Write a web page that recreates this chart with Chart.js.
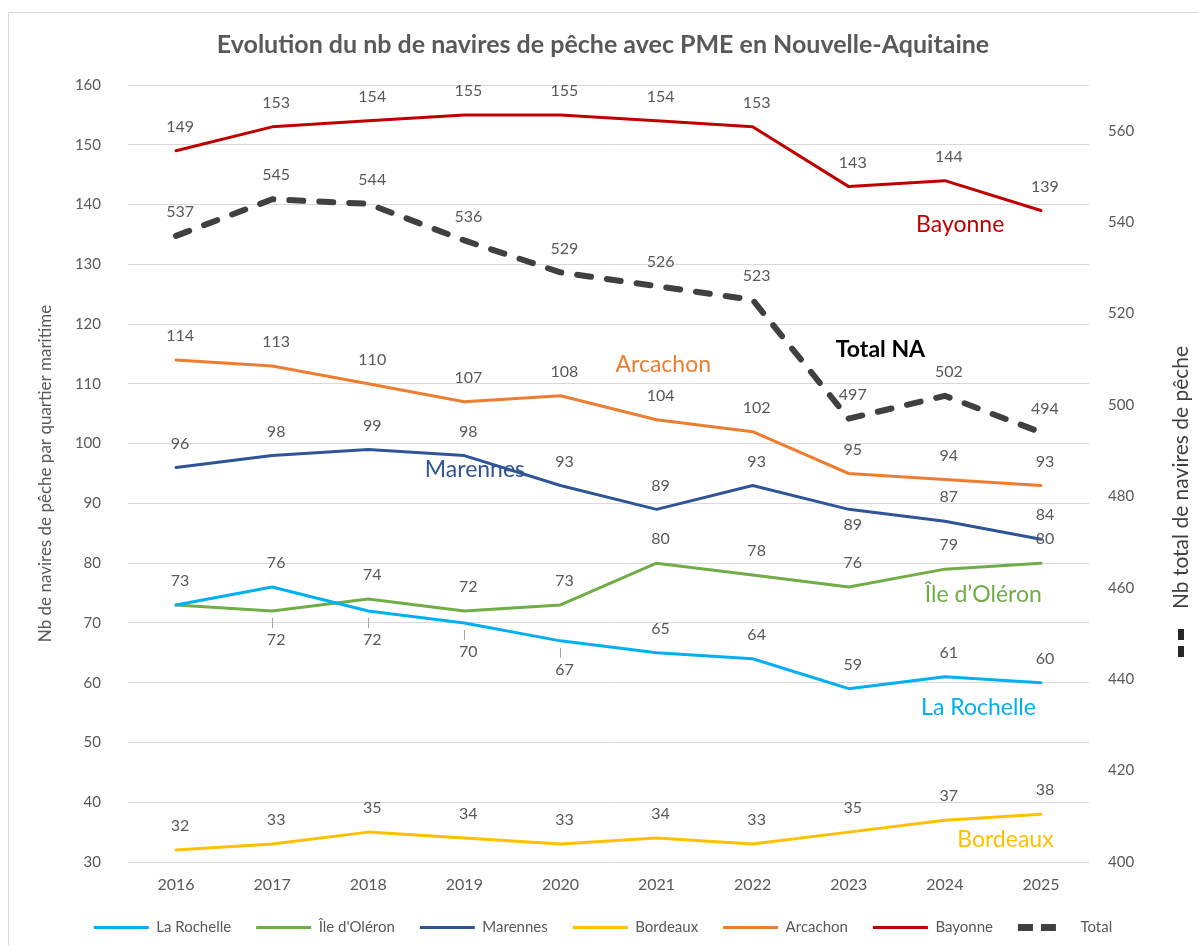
<!DOCTYPE html>
<html><head><meta charset="utf-8">
<script src="https://cdn.jsdelivr.net/npm/chart.js@4/dist/chart.umd.min.js"></script>
<style>html,body{margin:0;padding:0;background:#fff}#wrap{width:1198px;height:945px;position:relative}canvas{display:block}</style>
</head><body><div id="wrap"><canvas id="c" width="1198" height="945"></canvas></div>
<script>
// ---- data ----
const years = ['2016','2017','2018','2019','2020','2021','2022','2023','2024','2025'];
const laRochelle = [73,76,72,70,67,65,64,59,61,60];
const ileOleron  = [73,72,74,72,73,80,78,76,79,80];
const marennes   = [96,98,99,98,93,89,93,89,87,84];
const bordeaux   = [32,33,35,34,33,34,33,35,37,38];
const arcachon   = [114,113,110,107,108,104,102,95,94,93];
const bayonne    = [149,153,154,155,155,154,153,143,144,139];
const total      = [537,545,544,536,529,526,523,497,502,494];
const leftTicks  = [30,40,50,60,70,80,90,100,110,120,130,140,150,160];
const rightTicks = [400,420,440,460,480,500,520,540,560];

const FONT = 'Lato, "Liberation Sans", sans-serif';
const GREY = '#595959';

// in-chart series names: [text, x (category index), y (left-axis value), colour, bold]
const seriesNotes = [
  ['Bayonne', 8.16, 136.7, '#C00000', false],
  ['Arcachon', 5.07, 113.3, '#ED7D31', false],
  ['Marennes', 3.11, 95.6, '#2F5597', false],
  ['Total NA', 7.33, 115.7, '#000000', true],
  ['Île d’Oléron', 8.4, 74.7, '#70AD47', false],
  ['La Rochelle', 8.35, 55.9, '#00B0F0', false],
  ['Bordeaux', 8.63, 33.7, '#FFC000', false]
];

const notesPlugin = {
  id: 'notes',
  beforeDatasetsDraw(chart) {
    const ctx = chart.ctx, xs = chart.scales.x, ys = chart.scales.y;
    ctx.save();
    ctx.textAlign = 'center'; ctx.textBaseline = 'middle';
    seriesNotes.forEach(([t, xi, yv, col, bold]) => {
      ctx.font = (bold ? 'bold ' : '') + '23px ' + FONT;
      ctx.fillStyle = col;
      ctx.fillText(t, xs.getPixelForValue(xi), ys.getPixelForValue(yv));
    });
    ctx.restore();
  },
  afterDatasetsDraw(chart) {
    const ctx = chart.ctx;
    ctx.save();
    ctx.font = '16px ' + FONT;
    ctx.fillStyle = GREY;
    ctx.textAlign = 'center'; ctx.textBaseline = 'middle';
    chart.data.datasets.forEach((ds, di) => {
      const meta = chart.getDatasetMeta(di);
      meta.data.forEach((pt, i) => {
        const pos = ds.labelPos ? ds.labelPos[i] : 'a';
        if (!pos) return;
        const v = String(ds.data[i]);
        const lx = pt.x + 4;
        if (pos === 'a') ctx.fillText(v, lx, pt.y - 24);
        else if (pos === 'c') ctx.fillText(v, lx, pt.y + 15);
        else {
          ctx.strokeStyle = '#A6A6A6'; ctx.lineWidth = 1;
          ctx.beginPath(); ctx.moveTo(Math.round(pt.x) + 0.5, pt.y + 7); ctx.lineTo(Math.round(pt.x) + 0.5, pt.y + 17); ctx.stroke();
          ctx.fillText(v, lx, pt.y + 29);
        }
      });
    });
    ctx.restore();
  },
  afterDraw(chart) {
    const ctx = chart.ctx;
    ctx.save();
    // chart border
    ctx.strokeStyle = '#D9D9D9'; ctx.lineWidth = 1;
    ctx.beginPath(); ctx.moveTo(8.5, 945); ctx.lineTo(8.5, 12.5); ctx.lineTo(1198, 12.5); ctx.stroke();
    // right axis title (reads bottom-to-top) with dashed key
    const ca = chart.chartArea;
    const cy = (ca.top + ca.bottom) / 2 + 4;
    ctx.translate(1181, cy);
    ctx.rotate(-Math.PI / 2);
    ctx.font = '21px ' + FONT;
    ctx.fillStyle = '#404040';
    ctx.textAlign = 'center'; ctx.textBaseline = 'middle';
    const t = 'Nb total de navires de pêche';
    ctx.fillText(t, 0, 0);
    const w = ctx.measureText(t).width;
    const s = -w / 2 - 20;
    ctx.strokeStyle = '#262626'; ctx.lineWidth = 6; ctx.lineCap = 'butt';
    ctx.beginPath(); ctx.moveTo(s - 28, 0); ctx.lineTo(s - 17, 0); ctx.moveTo(s - 11, 0); ctx.lineTo(s, 0); ctx.stroke();
    ctx.restore();
  }
};

const mk = (label, data, color, labelPos, extra) => Object.assign({
  label, data, borderColor: color, backgroundColor: color, borderWidth: 3,
  pointRadius: 0, pointHoverRadius: 0, tension: 0, yAxisID: 'y', labelPos,
  borderJoinStyle: 'round', borderCapStyle: 'round'
}, extra || {});

new Chart(document.getElementById('c'), {
  type: 'line',
  data: {
    labels: years,
    datasets: [
      mk('La Rochelle', laRochelle, '#00B0F0', ['', 'a', 'b', 'b', 'b', 'a', 'a', 'a', 'a', 'a']),
      mk("Île d'Oléron", ileOleron, '#70AD47', ['a', 'b', 'a', 'a', 'a', 'a', 'a', 'a', 'a', 'a']),
      mk('Marennes', marennes, '#2F5597', ['a', 'a', 'a', 'a', 'a', 'a', 'a', 'c', 'a', 'a']),
      mk('Bordeaux', bordeaux, '#FFC000', null),
      mk('Arcachon', arcachon, '#ED7D31', null),
      mk('Bayonne', bayonne, '#C00000', null),
      mk('Total', total, '#404040', null, { yAxisID: 'y2', borderWidth: 6, borderDash: [14, 16], borderCapStyle: 'round' })
    ]
  },
  options: {
    responsive: false,
    animation: false,
    devicePixelRatio: 1,
    layout: { padding: { left: 8, right: 0, top: 2, bottom: 0 } },
    plugins: {
      title: {
        display: true,
        text: 'Evolution du nb de navires de pêche avec PME en Nouvelle-Aquitaine',
        color: GREY,
        font: { family: FONT, size: 25, weight: 'bold' },
        padding: { top: 28, bottom: 25 }
      },
      legend: {
        position: 'bottom',
        labels: {
          color: GREY, font: { family: FONT, size: 15 },
          usePointStyle: true, pointStyle: 'line', pointStyleWidth: 55,
          padding: 25,
          generateLabels: (chart) => {
            const items = Chart.defaults.plugins.legend.labels.generateLabels(chart);
            items.forEach(it => { if (it.text === 'Total') { it.lineDash = [15, 8, 15, 40]; it.lineCap = 'butt'; it.lineWidth = 7; } });
            return items;
          }
        }
      },
      tooltip: { enabled: false }
    },
    scales: {
      x: {
        offset: true,
        grid: { display: false, drawTicks: false },
        border: { display: false },
        ticks: { color: GREY, font: { family: FONT, size: 16 }, padding: 13, maxRotation: 0 },
        afterFit: (s) => { s.height = 33; }
      },
      y: {
        position: 'left',
        min: 30, max: 160,
        afterBuildTicks: (s) => { s.ticks = leftTicks.map(v => ({ value: v })); },
        grid: { color: '#D9D9D9', drawTicks: false, lineWidth: 1 },
        border: { display: false },
        ticks: { color: GREY, font: { family: FONT, size: 15 }, padding: 27 },
        title: { display: true, text: 'Nb de navires de pêche par quartier maritime', color: GREY,
                 font: { family: FONT, size: 17 }, padding: { top: 27, bottom: 0 } },
        afterFit: (s) => { s.width = 120; }
      },
      y2: {
        position: 'right',
        min: 400, max: 570,
        afterBuildTicks: (s) => { s.ticks = rightTicks.map(v => ({ value: v })); },
        grid: { display: false, drawTicks: false },
        border: { display: false },
        ticks: { color: GREY, font: { family: FONT, size: 15 }, padding: 19 },
        afterFit: (s) => { s.width = 109; }
      }
    }
  },
  plugins: [notesPlugin]
});
</script></body></html>
